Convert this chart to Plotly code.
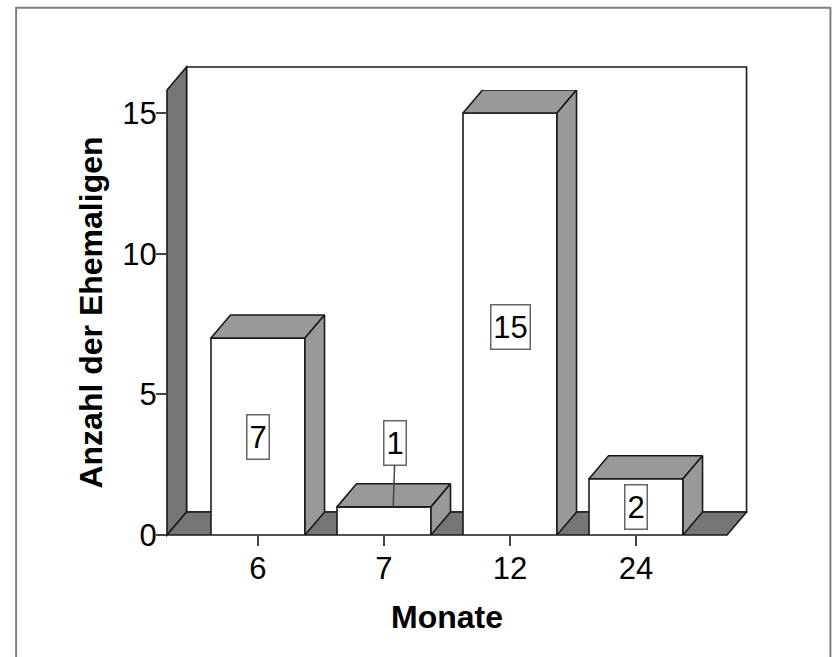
import plotly.graph_objects as go

months = ["6", "7", "12", "24"]
counts = [7, 1, 15, 2]
label_x = [0, 1.09, 2, 3]
label_y = [3.5, 3.28, 7.4, 1.0]
y_ticks = [0, 5, 10, 15]

WIDTH, HEIGHT = 832, 657
M = dict(l=167, r=104.5, t=89.5, b=121.5)
X_RANGE = [-0.722, 3.722]
Y_RANGE = [0, 15.82]
BAR_W = 0.746
DX, DY = 0.155, 0.82
EDGE = "#1a1a1a"
SIDE = "#999999"
WALL = "#767676"
LW = 1.6
FONT = 31
TITLE_FONT = 32

pw = WIDTH - M["l"] - M["r"]
ph = HEIGHT - M["t"] - M["b"]


def px(x):
    return (x - X_RANGE[0]) / (X_RANGE[1] - X_RANGE[0])


def py(y):
    return (y - Y_RANGE[0]) / (Y_RANGE[1] - Y_RANGE[0])


def path(points):
    return "M " + " L ".join(f"{px(x):.5f} {py(y):.5f}" for x, y in points) + " Z"


x0, x1 = X_RANGE
top = Y_RANGE[1]
walls = [
    (path([(x0 + DX, DY), (x1 + DX, DY), (x1 + DX, top + DY), (x0 + DX, top + DY)]), "white"),
    (path([(x0, 0), (x0 + DX, DY), (x0 + DX, top + DY), (x0, top)]), WALL),
    (path([(x0, 0), (x1, 0), (x1 + DX, DY), (x0 + DX, DY)]), WALL),
]
shapes = [
    dict(type="path", xref="paper", yref="paper", path=p, fillcolor=c,
         line=dict(color=EDGE, width=LW), layer="below")
    for p, c in walls
]
# outer frame of the picture
fx0 = (16 - M["l"]) / pw
fx1 = (831 - M["l"]) / pw
fy_top = 1 + (M["t"] - 7) / ph
fy_bot = -(M["b"] + 10) / ph
shapes.append(dict(type="path", xref="paper", yref="paper",
                   path=f"M {fx0:.5f} {fy_bot:.5f} L {fx0:.5f} {fy_top:.5f} L {fx1:.5f} {fy_top:.5f} L {fx1:.5f} {fy_bot:.5f}",
                   line=dict(color="#808080", width=2), layer="below"))

fig = go.Figure()
idx = list(range(len(months)))
fig.add_trace(go.Bar(x=idx, y=counts, width=BAR_W,
                     marker=dict(color="white", line=dict(color=EDGE, width=LW)),
                     showlegend=False, hoverinfo="skip"))

for i, v in zip(idx, counts):
    l, r = i - BAR_W / 2, i + BAR_W / 2
    top_face = [(l, v), (r, v), (r + DX, v + DY), (l + DX, v + DY), (l, v)]
    side_face = [(r, 0), (r + DX, DY), (r + DX, v + DY), (r, v), (r, 0)]
    for face in (top_face, side_face):
        fig.add_trace(go.Scatter(x=[p[0] for p in face], y=[p[1] for p in face],
                                 mode="lines", fill="toself", fillcolor=SIDE,
                                 line=dict(color=EDGE, width=LW), cliponaxis=False,
                                 showlegend=False, hoverinfo="skip"))

annotations = []
for i, v in enumerate(counts):
    a = dict(x=label_x[i], y=label_y[i], text=str(v), xref="x", yref="y",
             showarrow=False, bgcolor="white", bordercolor="#666666", borderwidth=1.5,
             borderpad=0, width=21 if v < 10 else 38, height=43,
             font=dict(family="Liberation Sans", size=FONT, color="black"))
    if v == 1:
        a.update(x=i + 0.073, y=v, ax=label_x[i], ay=label_y[i], axref="x", ayref="y",
                 showarrow=True, arrowhead=0, arrowwidth=1.5, arrowcolor="#444444", standoff=0)
    annotations.append(a)

fig.update_layout(
    width=WIDTH, height=HEIGHT, margin=M, autosize=False,
    paper_bgcolor="white", plot_bgcolor="rgba(0,0,0,0)",
    font=dict(family="Liberation Sans", color="black"),
    shapes=shapes, annotations=annotations, showlegend=False,
    xaxis=dict(range=X_RANGE, tickmode="array", tickvals=idx, ticktext=months,
               ticks="outside", ticklen=10, tickwidth=1.5, tickcolor="#444444",
               tickfont=dict(size=FONT), ticklabelstandoff=-4,
               showgrid=False, zeroline=False, showline=False,
               title=dict(text="<b>Monate</b>", font=dict(size=TITLE_FONT), standoff=20)),
    yaxis=dict(range=Y_RANGE, tickmode="array", tickvals=y_ticks,
               ticks="outside", ticklen=10, tickwidth=1.5, tickcolor="#444444",
               tickfont=dict(size=FONT), ticklabelstandoff=-7,
               showgrid=False, zeroline=False, showline=False,
               title=dict(text="<b>Anzahl der Ehemaligen</b>", font=dict(size=TITLE_FONT), standoff=10)),
)
fig.write_html("out.html", config=dict(displayModeBar=False),
               post_script="document.body.style.margin='0';")
